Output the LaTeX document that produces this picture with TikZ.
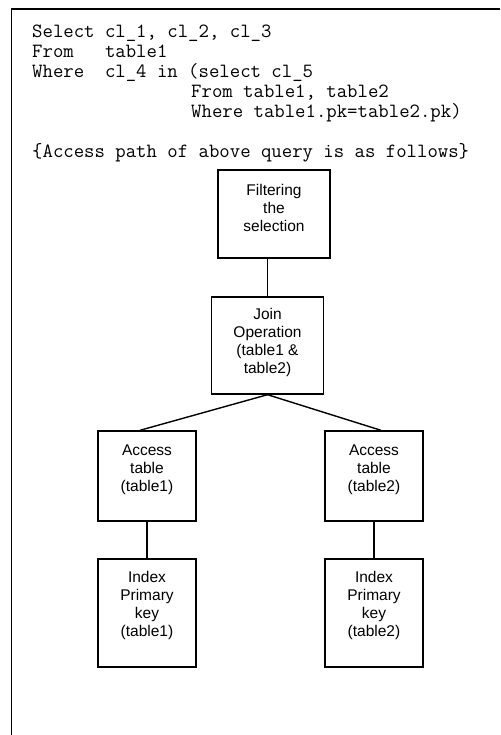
\documentclass[tikz,border=0pt]{standalone}
\usepackage{fontspec}
\setmainfont{Liberation Sans}
\begin{document}
\begin{tikzpicture}[x=1pt,y=-1pt,
  frame/.style={line width=1.6pt},
  opbox/.style={draw,line width=1.4pt,inner sep=0pt},
  rootbox/.style={draw,line width=2.6pt,inner sep=0pt},
  boxtext/.style={align=center,inner sep=0pt,font=\fontsize{15.5}{18}\selectfont},
  sqlline/.style={anchor=base west,inner sep=0pt,font=\ttfamily\fontsize{20.2}{20}\selectfont},
  link/.style={line width=1.4pt}]
\useasboundingbox (0,0) rectangle (500,735);

% open frame: left and top edges only
\coordinate (frameBL) at (11.5,735);
\coordinate (frameTL) at (11.5,9);
\coordinate (frameTR) at (500,9);
\draw[frame] (frameBL) -- (frameTL) -- (frameTR);

% the query
\node[sqlline] (q1) at (32,37.5)  {Select cl\_1, cl\_2, cl\_3};
\node[sqlline] (q2) at (32,57.5)  {From\ \ \ table1};
\node[sqlline] (q3) at (32,77.5)  {Where\ \ cl\_4 in (select cl\_5};
\node[sqlline] (q4) at (191,97.5) {From table1, table2};
\node[sqlline] (q5) at (191,117.5){Where table1.pk=table2.pk)};
\node[sqlline] (q6) at (32,157.5) {\{Access path of above query is as follows\}};

% access path tree
\node[rootbox, minimum width=112pt, minimum height=88pt] (filter) at (274,214) {};
\node[boxtext] (filterText) at (274,207.5) {Filtering\\the\\selection};

\node[opbox, minimum width=112pt, minimum height=97pt] (join) at (267.5,345.5) {};
\node[boxtext] (joinText) at (267.5,342) {Join\\Operation\\(table1 \&\\table2)};

\node[opbox, minimum width=98pt, minimum height=90pt] (acc1) at (147,476) {};
\node[boxtext] (acc1Text) at (147,469.5) {Access\\table\\(table1)};

\node[opbox, minimum width=98pt, minimum height=90pt] (acc2) at (374,476) {};
\node[boxtext] (acc2Text) at (374,469.5) {Access\\table\\(table2)};

\node[opbox, minimum width=98pt, minimum height=108pt] (idx1) at (147,613) {};
\node[boxtext] (idx1Text) at (147,605.5) {Index\\Primary\\key\\(table1)};

\node[opbox, minimum width=98pt, minimum height=108pt] (idx2) at (374,613) {};
\node[boxtext] (idx2Text) at (374,605.5) {Index\\Primary\\key\\(table2)};

% connectors
\draw[link] (join.north) -- (join.north |- filter.south);
\draw[link] ([xshift=-7pt]acc1.north) -- (join.south) -- ([xshift=7pt]acc2.north);
\draw[link] (acc1.south) -- (idx1.north);
\draw[link] (acc2.south) -- (idx2.north);
\end{tikzpicture}
\end{document}
